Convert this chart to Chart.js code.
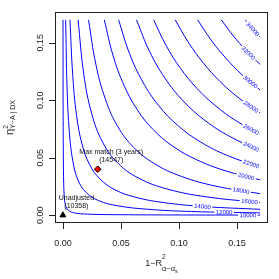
<!DOCTYPE html>
<html>
<head>
<meta charset="utf-8">
<script src="https://cdn.jsdelivr.net/npm/chart.js@4.4.1/dist/chart.umd.min.js"></script>
<style>
  html, body { margin:0; padding:0; background:#fff; }
</style>
</head>
<body>
<canvas id="chart" width="279" height="279"></canvas>
<script>
// contour levels and the lines, [x, y] pairs
const contourLevels = [10000,12000,14000,16000,18000,20000,22000,24000,26000,28000,30000,32000,34000];
const contourLines = [
  [[0.0001,0.17],[0.0002,0.0927],[0.0004,0.0506],[0.0007,0.0276],[0.0013,0.0150],[0.0024,0.0082],[0.0045,0.0045],[0.0082,0.0024],[0.0150,0.0013],[0.0276,0.0007],[0.0506,0.0004],[0.0928,0.0002],[0.17,0.0001]],
  [[0.0024,0.17],[0.0036,0.1108],[0.0056,0.0721],[0.0086,0.0469],[0.0131,0.0305],[0.0201,0.0197],[0.0308,0.0127],[0.0472,0.0082],[0.0724,0.0052],[0.1110,0.0032],[0.17,0.0020]],
  [[0.0061,0.17],[0.0085,0.1216],[0.0118,0.0868],[0.0165,0.0619],[0.0230,0.0441],[0.0322,0.0313],[0.0449,0.0221],[0.0626,0.0156],[0.0873,0.0109],[0.1219,0.0075],[0.17,0.0051]],
  [[0.0131,0.17],[0.0180,0.1228],[0.0248,0.0885],[0.0342,0.0636],[0.0472,0.0455],[0.0650,0.0324],[0.0895,0.0229],[0.1234,0.0160],[0.17,0.0110]],
  [[0.0221,0.17],[0.0285,0.1309],[0.0368,0.1005],[0.0474,0.0770],[0.0612,0.0588],[0.0791,0.0447],[0.1020,0.0338],[0.1317,0.0253],[0.17,0.0187]],
  [[0.0357,0.17],[0.0433,0.1387],[0.0527,0.1130],[0.0640,0.0919],[0.0778,0.0745],[0.0946,0.0601],[0.1150,0.0484],[0.1398,0.0387],[0.17,0.0307]],
  [[0.0480,0.17],[0.0575,0.1405],[0.0689,0.1159],[0.0826,0.0953],[0.0989,0.0782],[0.1185,0.0638],[0.1419,0.0519],[0.17,0.0419]],
  [[0.0634,0.17],[0.0747,0.1425],[0.0881,0.1191],[0.1038,0.0993],[0.1224,0.0825],[0.1442,0.0683],[0.17,0.0562]],
  [[0.0782,0.17],[0.0890,0.1476],[0.1013,0.1279],[0.1153,0.1106],[0.1312,0.0955],[0.1494,0.0821],[0.17,0.0704]],
  [[0.0968,0.17],[0.1084,0.1500],[0.1213,0.1321],[0.1357,0.1161],[0.1519,0.1018],[0.17,0.0890]],
  [[0.1161,0.17],[0.1277,0.1525],[0.1405,0.1366],[0.1545,0.1221],[0.17,0.1090]],
  [[0.1365,0.17],[0.1469,0.1561],[0.1580,0.1432],[0.17,0.1312]],
  [[0.1572,0.17],[0.1635,0.1623],[0.17,0.1548]]
];

// marked points
const pointNames = ['Unadjusted', 'Max match (3 years)'];
const pointX = [0, 0.03];
const pointY = [0, 0.04];
const pointValues = [10358, 14547];

// axis ticks
const tickValues = [0, 0.05, 0.10, 0.15];
const tickLabels = ['0.00', '0.05', '0.10', '0.15'];

// where along x each contour label sits
const labelAt = [0.1595,0.139,0.1203,0.1609,0.1537,0.158,0.1623,0.1623,0.1623,0.1623,0.1617,0.16,0.1638];

const FONT = '"Liberation Sans", Arial, Helvetica, sans-serif';
const LINE = '#0000ff';

// draw pieces [text, size, dy], stacked pairs share the same x
function mathText(ctx, groups, cx, base) {
  let total = 0;
  groups.forEach(g => {
    g.w = 0;
    g.parts.forEach(p => {
      let w = 0;
      p.forEach(s => { ctx.font = s[1] + 'px ' + FONT; w += ctx.measureText(s[0]).width; });
      g.w = Math.max(g.w, w);
    });
    total += g.w;
  });
  let xx = cx - total / 2;
  ctx.textAlign = 'left';
  ctx.textBaseline = 'alphabetic';
  groups.forEach(g => {
    g.parts.forEach(p => {
      let px = xx;
      p.forEach(s => {
        ctx.font = s[1] + 'px ' + FONT;
        ctx.fillText(s[0], px, base + s[2]);
        px += ctx.measureText(s[0]).width;
      });
    });
    xx += g.w;
  });
}

const frame = {
  id: 'frame',
  afterDatasetsDraw(chart) {
    const {ctx, chartArea: a, scales: {x, y}} = chart;
    ctx.save();

    // contour labels, cut into the line
    ctx.font = '6px ' + FONT;
    ctx.textAlign = 'center';
    ctx.textBaseline = 'middle';
    contourLines.forEach((pts, i) => {
      const lx = labelAt[i];
      let k = pts.findIndex(p => p[0] >= lx);
      if (k < 1) k = 1;
      const p0 = pts[k - 1], p1 = pts[k];
      const t = (lx - p0[0]) / (p1[0] - p0[0]);
      const ly = p0[1] + t * (p1[1] - p0[1]);
      const px = x.getPixelForValue(lx), py = y.getPixelForValue(ly);
      const ang = Math.atan2(y.getPixelForValue(p1[1]) - y.getPixelForValue(p0[1]),
                             x.getPixelForValue(p1[0]) - x.getPixelForValue(p0[0]));
      const txt = String(contourLevels[i]);
      const w = ctx.measureText(txt).width;
      ctx.save();
      ctx.translate(px, py);
      ctx.rotate(ang);
      ctx.fillStyle = '#fff';
      ctx.fillRect(-w / 2 - 1.5, -1.5, w + 3, 3);
      ctx.fillStyle = LINE;
      ctx.fillText(txt, 0, 0.5);
      ctx.restore();
    });

    // point labels
    ctx.fillStyle = '#111';
    ctx.font = '7px ' + FONT;
    pointNames.forEach((n, i) => {
      const px = x.getPixelForValue(pointX[i]) + 13.5;
      const py = y.getPixelForValue(pointY[i]);
      ctx.fillText(n, px, py - 17.5);
      ctx.fillText('(' + pointValues[i] + ')', px, py - 9);
    });
    ctx.restore();
  },
  afterDraw(chart) {
    const {ctx, chartArea: a, scales: {x, y}} = chart;
    ctx.save();
    ctx.strokeStyle = '#222';
    ctx.lineWidth = 1;
    ctx.strokeRect(a.left + 0.5, a.top + 0.5, a.right - a.left - 1, a.bottom - a.top - 1);

    ctx.beginPath();
    tickValues.forEach(v => {
      const px = Math.round(x.getPixelForValue(v)) + 0.5;
      ctx.moveTo(px, a.bottom); ctx.lineTo(px, a.bottom + 6);
      const py = Math.round(y.getPixelForValue(v)) + 0.5;
      ctx.moveTo(a.left, py); ctx.lineTo(a.left - 6, py);
    });
    ctx.stroke();

    ctx.fillStyle = '#222';
    ctx.font = '9px ' + FONT;
    ctx.textAlign = 'center';
    ctx.textBaseline = 'alphabetic';
    tickValues.forEach((v, i) => {
      ctx.fillText(tickLabels[i], x.getPixelForValue(v), 246);
      ctx.save();
      ctx.translate(42.5, y.getPixelForValue(v));
      ctx.rotate(-Math.PI / 2);
      ctx.fillText(tickLabels[i], 0, 0);
      ctx.restore();
    });

    // x title: 1-R^2 with subscript alpha~alpha_s
    mathText(ctx, [
      {parts: [[['1\u2212R', 9, 0]]]},
      {parts: [[['2', 6.5, -7.5]], [['\u03b1~\u03b1', 7.5, 5], ['s', 5.5, 7]]]}
    ], (a.left + a.right) / 2, 266);

    // y title: eta^2 with subscript Y~A | DX
    ctx.save();
    ctx.translate(12.5, (a.top + a.bottom) / 2);
    ctx.rotate(-Math.PI / 2);
    mathText(ctx, [
      {parts: [[['\u03b7', 11, 0]]]},
      {parts: [[['2', 6.5, -4.5]], [['Y~A | DX', 7, 2.5]]]}
    ], 0, 0);
    ctx.restore();
    ctx.restore();
  }
};

const datasets = [];
datasets.push({
  data: [{x: pointX[0], y: pointY[0]}],
  pointStyle: 'triangle', pointRadius: 3.4,
  backgroundColor: '#000', borderColor: '#000', borderWidth: 1,
  showLine: false, order: 0
});
datasets.push({
  data: [{x: pointX[1], y: pointY[1]}],
  pointStyle: 'rectRot', pointRadius: 3.3,
  backgroundColor: '#ff0000', borderColor: '#000', borderWidth: 1,
  showLine: false, order: 0
});
contourLines.forEach((pts, i) => {
  datasets.push({
    label: String(contourLevels[i]),
    data: pts.map(p => ({x: p[0], y: p[1]})),
    showLine: true, pointRadius: 0,
    borderColor: LINE, borderWidth: 1,
    tension: 0.4, order: 1
  });
});

new Chart(document.getElementById('chart'), {
  type: 'scatter',
  data: {datasets},
  options: {
    responsive: false,
    animation: false,
    devicePixelRatio: 1,
    layout: {padding: {left: 55, top: 12, right: 11, bottom: 56}},
    plugins: {legend: {display: false}, tooltip: {enabled: false}},
    scales: {
      x: {type: 'linear', min: -0.0068, max: 0.1768, display: false},
      y: {type: 'linear', min: -0.0068, max: 0.1768, display: false}
    }
  },
  plugins: [frame]
});
</script>
</body>
</html>
